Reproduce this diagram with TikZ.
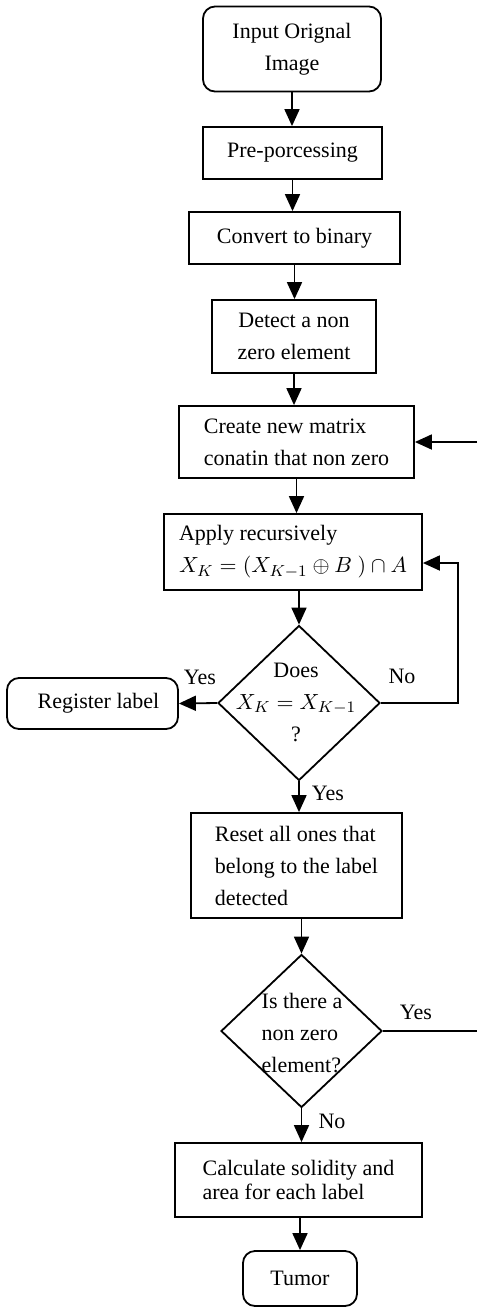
\documentclass[tikz,border=0pt]{standalone}
\usepackage{fontspec}
\setmainfont{Liberation Serif}
\usetikzlibrary{arrows.meta,shapes.geometric}
\tikzset{
  box/.style={draw, line width=0.9pt, inner sep=0pt, align=center, font=\fontsize{11}{16}\selectfont},
  rbox/.style={box, rounded corners=6pt},
  dia/.style={draw, diamond, line width=0.9pt, inner sep=0pt},
  txt/.style={inner sep=0pt, align=center, font=\fontsize{11}{16}\selectfont},
  lbl/.style={inner sep=0pt, font=\fontsize{11}{13}\selectfont},
  arr/.style={line width=0.9pt, -{Triangle[length=8.5pt,width=7.5pt]}},
  ln/.style={line width=0.9pt}
}
\begin{document}
\begin{tikzpicture}[x=0.5pt,y=-0.5pt]
\useasboundingbox (0,0) rectangle (477,1307);
\node[rbox, minimum width=89pt, minimum height=42.5pt] (in) at (292,49) {Input Orignal\\Image};
\node[box, minimum width=89.5pt, minimum height=26pt] (pre) at (292.5,153) {Pre-porcessing};
\node[box, minimum width=105.5pt, minimum height=26pt] (bin) at (294.5,238) {Convert to binary};
\node[box, minimum width=82pt, minimum height=36.5pt] (det) at (294,336.5) {Detect a non\\zero element};
\node[box, minimum width=117.5pt, minimum height=36pt, align=left] (cre) at (296.5,442) {Create new matrix\\conatin that non zero};
\node[box, minimum width=129pt, minimum height=38pt, align=left] (app) at (293,552) {Apply recursively\\$X_K = (X_{K-1} \oplus B\ )\cap A$};
\node[dia, minimum width=81pt, minimum height=77.5pt] (d1) at (299,703) {};
\node[txt] (d1t) at (296,702) {Does\\$X_K = X_{K-1}$\\?};
\node[rbox, minimum width=85.5pt, minimum height=25.5pt] (reg) at (92.5,703.5) {\hspace{6pt}Register label};
\node[box, minimum width=105.5pt, minimum height=52.5pt, align=left] (res) at (296.5,865.5) {Reset all ones that\\belong to the label\\detected};
\node[dia, minimum width=80.5pt, minimum height=76.5pt] (d2) at (301.5,1031) {};
\node[txt, align=left] (d2t) at (302,1033) {Is there a\\non zero\\element?};
\node[box, minimum width=123.5pt, minimum height=37pt, align=left, font=\fontsize{11}{12}\selectfont] (calc) at (298.5,1180) {Calculate solidity and\\area for each label};
\node[rbox, minimum width=57pt, minimum height=27.5pt] (tum) at (300,1278.5) {Tumor};

\node[lbl] (y1) at (200,677) {Yes};
\node[lbl] (n1) at (402,676) {No};
\node[lbl] (y2) at (328,793) {Yes};
\node[lbl] (y3) at (416,1012) {Yes};
\node[lbl] (n2) at (332,1121) {No};

\coordinate (nr) at (458,563);
\coordinate (e1) at (477,442);
\coordinate (e2) at (477,1031);

\draw[arr] (in.south) -- (in.south |- pre.north);
\draw[arr] (pre.south) -- (pre.south |- bin.north);
\draw[arr] (bin.south) -- (bin.south |- det.north);
\draw[arr] (det.south) -- (det.south |- cre.north);
\draw[arr] (cre.south) -- (cre.south |- app.north);
\draw[arr] (app.south -| d1.north) -- (d1.north);
\draw[arr] (d1.south) -- (d1.south |- res.north);
\draw[arr] (res.south -| d2.north) -- (d2.north);
\draw[arr] (d2.south) -- (d2.south |- calc.north);
\draw[arr] (calc.south -| tum.north) -- (tum.north);
\draw[arr] (d1.west) -- (reg.east);
\draw[arr] (d1.east) -| (nr) -- (app.east |- nr);
\draw[arr] (e1) -- (cre.east |- e1);
\draw[ln] (d2.east) -- (e2);
\end{tikzpicture}
\end{document}
